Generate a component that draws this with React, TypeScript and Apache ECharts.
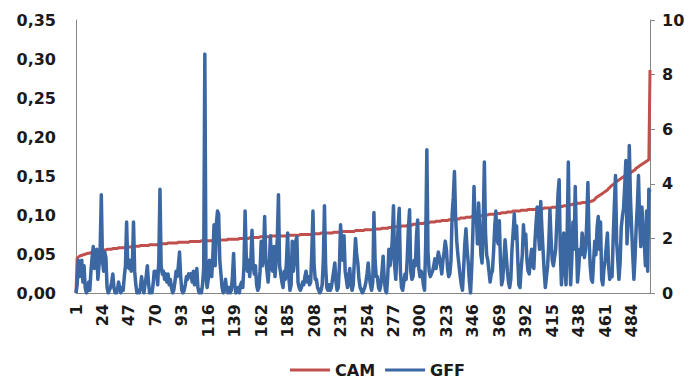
import React, { useEffect, useRef } from "react";
import * as echarts from "echarts";

const seriesNames = ["CAM", "GFF"];
const leftTicks = { min: 0, max: 0.35, interval: 0.05 };
const rightTicks = { min: 0, max: 10, interval: 2 };

const categories: string[] = Array.from({ length: 500 }, (_, i) => String(i + 1));

const camValues: number[] = [
  0.000, 0.045, 0.046, 0.047, 0.048, 0.048, 0.049, 0.049, 0.050, 0.050, 0.051, 0.051, 0.051, 0.052, 0.052, 0.052, 0.053, 0.053, 0.053, 0.054,
  0.054, 0.054, 0.054, 0.055, 0.055, 0.055, 0.055, 0.056, 0.056, 0.056, 0.056, 0.056, 0.057, 0.057, 0.057, 0.057, 0.057, 0.058, 0.058, 0.058,
  0.058, 0.058, 0.058, 0.059, 0.059, 0.059, 0.059, 0.059, 0.059, 0.060, 0.060, 0.060, 0.060, 0.060, 0.060, 0.060, 0.061, 0.061, 0.061, 0.061,
  0.061, 0.061, 0.061, 0.061, 0.062, 0.062, 0.062, 0.062, 0.062, 0.062, 0.062, 0.062, 0.063, 0.063, 0.063, 0.063, 0.063, 0.063, 0.063, 0.063,
  0.064, 0.064, 0.064, 0.064, 0.064, 0.064, 0.064, 0.064, 0.064, 0.065, 0.065, 0.065, 0.065, 0.065, 0.065, 0.065, 0.065, 0.065, 0.065, 0.066,
  0.066, 0.066, 0.066, 0.066, 0.066, 0.066, 0.066, 0.066, 0.066, 0.067, 0.067, 0.067, 0.067, 0.067, 0.067, 0.067, 0.067, 0.067, 0.067, 0.067,
  0.067, 0.067, 0.068, 0.068, 0.068, 0.068, 0.068, 0.068, 0.068, 0.068, 0.068, 0.068, 0.069, 0.069, 0.069, 0.069, 0.069, 0.069, 0.069, 0.069,
  0.069, 0.069, 0.070, 0.070, 0.070, 0.070, 0.070, 0.070, 0.070, 0.070, 0.070, 0.071, 0.071, 0.071, 0.071, 0.071, 0.071, 0.071, 0.071, 0.071,
  0.072, 0.072, 0.072, 0.072, 0.072, 0.072, 0.072, 0.072, 0.072, 0.072, 0.073, 0.073, 0.073, 0.073, 0.073, 0.073, 0.073, 0.073, 0.073, 0.073,
  0.073, 0.073, 0.073, 0.073, 0.073, 0.074, 0.074, 0.074, 0.074, 0.074, 0.074, 0.074, 0.074, 0.074, 0.074, 0.075, 0.075, 0.075, 0.075, 0.075,
  0.075, 0.075, 0.075, 0.075, 0.075, 0.075, 0.076, 0.076, 0.076, 0.076, 0.076, 0.076, 0.076, 0.077, 0.077, 0.077, 0.077, 0.077, 0.077, 0.077,
  0.077, 0.077, 0.077, 0.077, 0.078, 0.078, 0.078, 0.078, 0.078, 0.078, 0.078, 0.078, 0.079, 0.079, 0.079, 0.079, 0.079, 0.079, 0.079, 0.079,
  0.079, 0.079, 0.079, 0.080, 0.080, 0.080, 0.080, 0.080, 0.080, 0.080, 0.080, 0.081, 0.081, 0.081, 0.081, 0.081, 0.081, 0.081, 0.081, 0.081,
  0.082, 0.082, 0.082, 0.082, 0.082, 0.082, 0.083, 0.083, 0.083, 0.083, 0.083, 0.083, 0.084, 0.084, 0.084, 0.084, 0.084, 0.085, 0.085, 0.085,
  0.085, 0.085, 0.085, 0.086, 0.086, 0.086, 0.086, 0.086, 0.087, 0.087, 0.087, 0.087, 0.087, 0.088, 0.088, 0.088, 0.088, 0.088, 0.089, 0.089,
  0.089, 0.089, 0.089, 0.090, 0.090, 0.090, 0.090, 0.090, 0.091, 0.091, 0.091, 0.091, 0.091, 0.092, 0.092, 0.092, 0.092, 0.092, 0.093, 0.093,
  0.093, 0.093, 0.093, 0.093, 0.094, 0.094, 0.094, 0.094, 0.094, 0.095, 0.095, 0.095, 0.095, 0.095, 0.096, 0.096, 0.096, 0.096, 0.096, 0.097,
  0.097, 0.097, 0.097, 0.097, 0.098, 0.098, 0.098, 0.098, 0.098, 0.099, 0.099, 0.099, 0.099, 0.099, 0.100, 0.100, 0.100, 0.100, 0.100, 0.101,
  0.101, 0.101, 0.101, 0.101, 0.101, 0.102, 0.102, 0.102, 0.102, 0.102, 0.103, 0.103, 0.103, 0.103, 0.103, 0.104, 0.104, 0.104, 0.104, 0.104,
  0.105, 0.105, 0.105, 0.105, 0.105, 0.105, 0.105, 0.106, 0.106, 0.106, 0.106, 0.106, 0.106, 0.107, 0.107, 0.107, 0.107, 0.107, 0.107, 0.107,
  0.108, 0.108, 0.108, 0.108, 0.108, 0.108, 0.108, 0.109, 0.109, 0.109, 0.109, 0.109, 0.109, 0.109, 0.110, 0.110, 0.110, 0.110, 0.110, 0.110,
  0.111, 0.111, 0.111, 0.111, 0.112, 0.112, 0.112, 0.112, 0.113, 0.113, 0.113, 0.113, 0.114, 0.114, 0.114, 0.114, 0.115, 0.115, 0.115, 0.115,
  0.116, 0.116, 0.116, 0.116, 0.117, 0.117, 0.117, 0.117, 0.118, 0.118, 0.119, 0.120, 0.122, 0.123, 0.124, 0.125, 0.126, 0.127, 0.128, 0.129,
  0.130, 0.131, 0.132, 0.134, 0.135, 0.137, 0.138, 0.139, 0.140, 0.142, 0.143, 0.144, 0.145, 0.146, 0.147, 0.148, 0.149, 0.150, 0.151, 0.151,
  0.152, 0.153, 0.154, 0.155, 0.156, 0.157, 0.158, 0.160, 0.161, 0.162, 0.163, 0.164, 0.165, 0.166, 0.167, 0.168, 0.169, 0.170, 0.171, 0.286,
];

const gffValues: number[] = [
  0, 0.3, 1.2, 0.6, 1.1, 1.2, 0.4, 1.0, 0.2, 0, 0.1, 0.4, 0.1, 0.8, 1.3, 1.7, 0.9, 1.2, 1.6, 0.5,
  1.0, 1.6, 3.6, 1.2, 0.8, 1.5, 1.3, 0.2, 0, 0.1, 0.2, 0.4, 0.7, 0.2, 0, 0, 0.1, 0.4, 0.2, 0,
  0.2, 0.1, 0.6, 1.0, 2.6, 1.0, 0.9, 1.2, 0.8, 1.0, 2.6, 0.8, 0.3, 0, 0.1, 0, 0.2, 0.6, 0.2, 0,
  0.3, 0.6, 1.0, 0.4, 0, 0.1, 0, 0.3, 0.8, 0.6, 0.8, 0.3, 1.2, 3.8, 1.0, 0.7, 0.8, 0.5, 0.7, 0.4,
  0.7, 0.3, 0.5, 0.2, 0, 0.1, 0.4, 0.8, 0.6, 1.0, 1.5, 0.6, 0.1, 0, 0.1, 0.3, 0.6, 0.5, 0.7, 0.6,
  0.7, 0.4, 0.8, 0.3, 0.5, 0.9, 0.2, 0, 0.1, 0, 0.3, 0.9, 8.75, 0.6, 0.2, 0.5, 1.2, 0.8, 0.6, 1.4,
  2.5, 1.0, 2.5, 3.0, 2.9, 1.2, 0.7, 0.2, 0, 0.1, 0.5, 0.1, 0, 0.2, 0, 0.1, 0.6, 1.45, 0.3, 0,
  0.1, 0.2, 0, 0.3, 0.4, 0.2, 1.0, 3.0, 1.4, 0.8, 1.2, 0.6, 1.2, 2.3, 1.0, 0.7, 1.0, 0.3, 0.1, 0.2,
  0.8, 1.9, 1.0, 1.4, 2.8, 1.2, 0.8, 0.4, 1.0, 2.1, 1.0, 0.8, 1.7, 0.6, 1.2, 2.0, 3.6, 1.0, 0.7, 0.4,
  0.2, 0.8, 0.5, 1.2, 2.2, 0.6, 0.1, 0.3, 1.9, 0.8, 1.2, 1.9, 2.05, 0.4, 0.2, 0.1, 0.2, 0.4, 0.3, 0.6,
  0.8, 0.4, 0.6, 0.3, 0.4, 1.5, 3.0, 1.0, 0.5, 0.5, 0.2, 0.1, 0, 0.1, 0.3, 1.2, 3.2, 1.0, 0.2, 0.1,
  0.3, 0.1, 0.2, 0.5, 0.8, 1.1, 0.4, 0.1, 0.2, 1.0, 2.5, 1.6, 1.2, 2.1, 0.8, 0.5, 0.2, 0.6, 0.9, 0.3,
  0.1, 0.3, 1.2, 2.0, 1.4, 1.1, 0.5, 0.2, 0.1, 0, 0.1, 0.2, 0.4, 0.7, 1.1, 0.6, 0.3, 0.1, 0.4, 2.95,
  1.2, 0.6, 0.6, 0.2, 0.1, 0.3, 0.8, 1.35, 0.5, 0.1, 0, 0.6, 1.6, 1.0, 1.3, 2.0, 3.2, 1.0, 0.5, 1.4,
  2.4, 3.1, 0.8, 0.2, 0.1, 0.4, 0.7, 0.5, 1.3, 2.4, 3.05, 0.8, 0.5, 0.6, 1.2, 1.0, 2.1, 2.67, 0.9, 0.6,
  0.8, 0.7, 0.3, 0.1, 1.8, 5.25, 1.5, 0.8, 0.6, 0.7, 0.8, 1.0, 1.25, 0.9, 1.2, 1.5, 1.3, 1.0, 0.7, 1.2,
  1.5, 1.9, 1.6, 0.9, 0.6, 0.7, 1.2, 2.9, 3.5, 4.45, 2.8, 1.9, 1.4, 1.0, 0.6, 0.3, 0.1, 0.9, 1.8, 2.35,
  1.6, 1.1, 0.4, 0, 0.9, 2.2, 3.9, 2.6, 2.9, 1.8, 3.3, 2.4, 1.4, 1.1, 2.5, 4.8, 2.2, 1.4, 1.2, 0.8,
  0.4, 0.7, 0.8, 1.5, 2.4, 3.0, 2.0, 1.8, 2.65, 1.2, 0.3, 0.5, 1.2, 1.95, 1.4, 0.8, 0.4, 0.2, 0.5, 1.6,
  2.2, 2.9, 2.0, 2.45, 1.3, 0.3, 0.2, 0.9, 1.4, 2.5, 1.8, 2.15, 1.2, 0.8, 0.7, 1.2, 1.6, 1.0, 0.9, 1.9,
  2.6, 3.15, 2.2, 1.6, 3.35, 2.4, 1.6, 0.8, 0.2, 0.6, 1.0, 1.8, 3.05, 2.0, 1.2, 1.0, 1.3, 1.6, 2.6, 3.6,
  4.15, 1.6, 0.3, 1.1, 2.2, 1.0, 0.3, 2.2, 4.8, 1.6, 0.3, 1.2, 2.6, 1.6, 3.9, 2.0, 0.4, 0.9, 1.6, 1.4,
  2.2, 1.8, 1.3, 1.6, 2.6, 4.05, 2.0, 1.0, 0.5, 0.4, 1.2, 1.9, 1.4, 2.4, 2.8, 1.6, 2.6, 0.5, 0.3, 0.9,
  1.2, 1.7, 2.2, 1.0, 0.5, 0.7, 0.6, 2.0, 3.2, 4.3, 1.9, 1.2, 0.5, 1.1, 2.4, 2.8, 3.1, 3.9, 4.85, 1.8,
  2.6, 5.4, 3.5, 2.4, 1.4, 0.5, 1.3, 2.4, 3.2, 4.3, 2.6, 1.7, 3.15, 2.2, 1.9, 1.0, 3.0, 0.8, 3.8, 3.7,
];

const colors = ["#C0504D", "#3B67A3"];
const FONT = "DejaVu Sans";

export default function App() {
  const ref = useRef<HTMLDivElement>(null);
  useEffect(() => {
    document.body.style.margin = "0";
    const chart = echarts.init(ref.current!, null, { renderer: "svg" });
    const labelStyle = { fontFamily: FONT, fontWeight: "bold" as const, fontSize: 16, color: "#1a1a1a" };
    chart.setOption({
      animation: false,
      backgroundColor: "#ffffff",
      grid: { left: 76, right: 46, top: 20, bottom: 90, containLabel: false },
      legend: {
        left: 285,
        top: 357,
        data: seriesNames,
        icon: "rect",
        itemWidth: 40,
        itemHeight: 3,
        itemGap: 10,
        textStyle: { ...labelStyle, fontSize: 16 },
      },
      xAxis: {
        type: "category",
        data: categories,
        boundaryGap: false,
        axisLine: { lineStyle: { color: "#868686", width: 1 } },
        axisTick: { show: false },
        axisLabel: { ...labelStyle, rotate: 90, interval: 22, margin: 11 },
        splitLine: { show: false },
      },
      yAxis: [
        {
          type: "value",
          min: leftTicks.min,
          max: leftTicks.max,
          interval: leftTicks.interval,
          axisLine: { show: true, lineStyle: { color: "#868686", width: 1 } },
          axisTick: { show: false },
          splitLine: { show: false },
          axisLabel: {
            ...labelStyle,
            margin: 20,
            formatter: (v: number) => v.toFixed(2).replace(".", ","),
          },
        },
        {
          type: "value",
          position: "right",
          min: rightTicks.min,
          max: rightTicks.max,
          interval: rightTicks.interval,
          axisLine: { show: true, lineStyle: { color: "#868686", width: 1 } },
          axisTick: { show: true, length: 5, lineStyle: { color: "#868686" } },
          splitLine: { show: false },
          axisLabel: { ...labelStyle, margin: 12 },
        },
      ],
      series: [
        {
          name: seriesNames[0],
          type: "line",
          yAxisIndex: 0,
          data: camValues,
          showSymbol: false,
          symbol: "none",
          lineStyle: { color: colors[0], width: 3 },
          itemStyle: { color: colors[0] },
          z: 2,
        },
        {
          name: seriesNames[1],
          type: "line",
          yAxisIndex: 1,
          data: gffValues,
          showSymbol: false,
          symbol: "none",
          lineStyle: { color: colors[1], width: 3.5, join: "round" },
          itemStyle: { color: colors[1] },
          z: 3,
        },
      ],
    });
    return () => chart.dispose();
  }, []);
  return <div ref={ref} style={{ width: 696, height: 383 }} />;
}
